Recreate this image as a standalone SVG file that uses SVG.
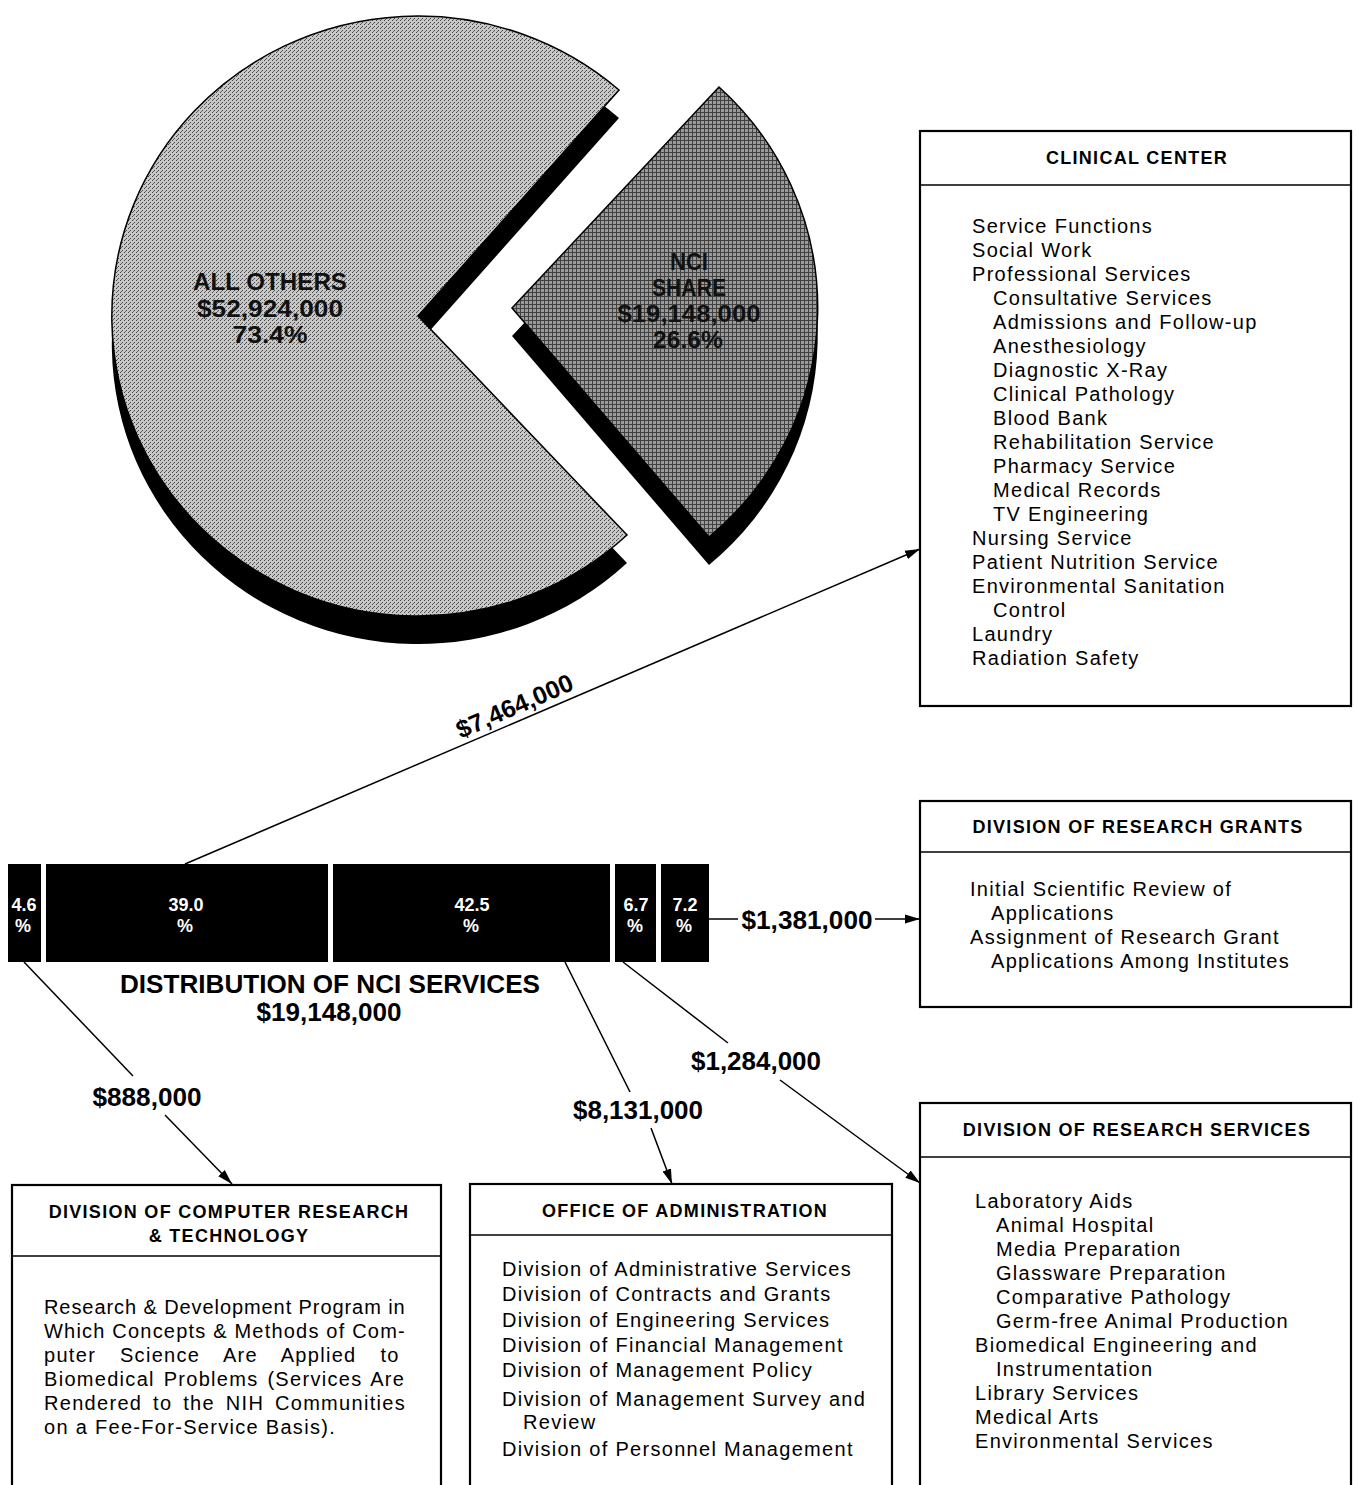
<svg xmlns="http://www.w3.org/2000/svg" width="1358" height="1485" viewBox="0 0 1358 1485">
<defs>
<style>
.box{fill:#fff;stroke:#000;stroke-width:2.2}
.div{stroke:#000;stroke-width:1.6}
.hd{font-family:"Liberation Sans",Arial,sans-serif;font-weight:bold;font-size:18px;letter-spacing:1.3px;text-anchor:middle;fill:#000}
.it{font-family:"Liberation Sans",Arial,sans-serif;font-size:20px;letter-spacing:1.3px;fill:#000}
.lb{font-family:"Liberation Sans",Arial,sans-serif;font-weight:bold;font-size:25px;text-anchor:middle;fill:#000}
.pt{font-family:"Liberation Sans",Arial,sans-serif;font-weight:bold;font-size:23px;text-anchor:middle;fill:#111}
.tt{font-family:"Liberation Sans",Arial,sans-serif;font-weight:bold;font-size:25px;text-anchor:middle;fill:#000}
.bl{font-family:"Liberation Sans",Arial,sans-serif;font-weight:bold;font-size:18px;text-anchor:middle;fill:#fff}
.cn{fill:none;stroke:#000;stroke-width:1.5}
</style>
<pattern id="pl" width="4" height="4" patternUnits="userSpaceOnUse">
<rect width="4" height="4" fill="#c8c8c8"/>
<rect x="0" y="0" width="1" height="1" fill="#444"/>
<rect x="2" y="2" width="1" height="1" fill="#444"/>
<rect x="1" y="3" width="1" height="1" fill="#666"/>
</pattern>
<pattern id="pd" width="4" height="4" patternUnits="userSpaceOnUse">
<rect width="4" height="4" fill="#9a9a9a"/>
<rect x="0" y="0" width="4" height="1" fill="#404040"/>
<rect x="0" y="0" width="1" height="4" fill="#404040"/>
</pattern>
<marker id="ar" markerUnits="userSpaceOnUse" markerWidth="16" markerHeight="10" refX="15" refY="5" orient="auto">
<path d="M0,0.5 L15,5 L0,9.5 Z" fill="#000"/>
</marker>
</defs>
<rect width="1358" height="1485" fill="#fff"/>

<g id="pie-all-others">
<path d="M418,316 L619,90 A306,300 0 1 0 627,535 Z" fill="#000" transform="translate(0,28)"/>
<path d="M418,316 L619,90 A306,300 0 1 0 627,535 Z" fill="url(#pl)" stroke="#000" stroke-width="1.5"/>
<text class="pt" x="270" y="290" textLength="154" lengthAdjust="spacingAndGlyphs">ALL OTHERS</text>
<text class="pt" x="270" y="317" textLength="146" lengthAdjust="spacingAndGlyphs">$52,924,000</text>
<text class="pt" x="270" y="343" textLength="75" lengthAdjust="spacingAndGlyphs">73.4%</text>
</g>

<g id="pie-nci-share">
<path d="M512,308 L719,87 A306,300 0 0 1 709,537 Z" fill="#000" transform="translate(0,28)"/>
<path d="M512,308 L719,87 A306,300 0 0 1 709,537 Z" fill="url(#pd)" stroke="#000" stroke-width="1.5"/>
<text class="pt" x="689" y="270" textLength="38" lengthAdjust="spacingAndGlyphs">NCI</text>
<text class="pt" x="689" y="296" textLength="74" lengthAdjust="spacingAndGlyphs">SHARE</text>
<text class="pt" x="689" y="322" textLength="143" lengthAdjust="spacingAndGlyphs">$19,148,000</text>
<text class="pt" x="688" y="348" textLength="70" lengthAdjust="spacingAndGlyphs">26.6%</text>
</g>

<g id="bar">
<rect x="8" y="864" width="33" height="98" fill="#000"/>
<rect x="46" y="864" width="282" height="98" fill="#000"/>
<rect x="333" y="864" width="277" height="98" fill="#000"/>
<rect x="615" y="864" width="41" height="98" fill="#000"/>
<rect x="661" y="864" width="48" height="98" fill="#000"/>
<text class="bl" x="24" y="911">4.6</text><text class="bl" x="23" y="932">%</text>
<text class="bl" x="186" y="911">39.0</text><text class="bl" x="185" y="932">%</text>
<text class="bl" x="472" y="911">42.5</text><text class="bl" x="471" y="932">%</text>
<text class="bl" x="636" y="911">6.7</text><text class="bl" x="635" y="932">%</text>
<text class="bl" x="685" y="911">7.2</text><text class="bl" x="684" y="932">%</text>
<text class="tt" x="330" y="993" textLength="420" lengthAdjust="spacingAndGlyphs">DISTRIBUTION OF NCI SERVICES</text>
<text class="tt" x="329" y="1021" textLength="145" lengthAdjust="spacingAndGlyphs">$19,148,000</text>
</g>

<g id="connectors">
<line class="cn" x1="185" y1="864" x2="920" y2="549" marker-end="url(#ar)"/>
<text class="lb" transform="translate(518,714) rotate(-23.5)" x="0" y="0" textLength="125" lengthAdjust="spacingAndGlyphs">$7,464,000</text>
<line class="cn" x1="709" y1="919" x2="738" y2="919"/>
<line class="cn" x1="875" y1="919" x2="920" y2="919" marker-end="url(#ar)"/>
<text class="lb" x="807" y="929" textLength="131" lengthAdjust="spacingAndGlyphs">$1,381,000</text>
<line class="cn" x1="24" y1="962" x2="133" y2="1076"/>
<line class="cn" x1="165" y1="1115" x2="232" y2="1184" marker-end="url(#ar)"/>
<text class="lb" x="147" y="1106" textLength="109" lengthAdjust="spacingAndGlyphs">$888,000</text>
<line class="cn" x1="565" y1="962" x2="630" y2="1092"/>
<line class="cn" x1="651" y1="1128" x2="672" y2="1184" marker-end="url(#ar)"/>
<text class="lb" x="638" y="1119" textLength="130" lengthAdjust="spacingAndGlyphs">$8,131,000</text>
<line class="cn" x1="623" y1="962" x2="728" y2="1043"/>
<line class="cn" x1="780" y1="1080" x2="920" y2="1183" marker-end="url(#ar)"/>
<text class="lb" x="756" y="1070" textLength="130" lengthAdjust="spacingAndGlyphs">$1,284,000</text>
</g>

<g id="clinical-center">
<rect class="box" x="920" y="131" width="431" height="575"/>
<line class="div" x1="920" y1="185" x2="1351" y2="185"/>
<text class="hd" x="1137" y="164">CLINICAL CENTER</text>
<text class="it" x="972" y="233">Service Functions</text>
<text class="it" x="972" y="257">Social Work</text>
<text class="it" x="972" y="281">Professional Services</text>
<text class="it" x="993" y="305">Consultative Services</text>
<text class="it" x="993" y="329">Admissions and Follow-up</text>
<text class="it" x="993" y="353">Anesthesiology</text>
<text class="it" x="993" y="377">Diagnostic X-Ray</text>
<text class="it" x="993" y="401">Clinical Pathology</text>
<text class="it" x="993" y="425">Blood Bank</text>
<text class="it" x="993" y="449">Rehabilitation Service</text>
<text class="it" x="993" y="473">Pharmacy Service</text>
<text class="it" x="993" y="497">Medical Records</text>
<text class="it" x="993" y="521">TV Engineering</text>
<text class="it" x="972" y="545">Nursing Service</text>
<text class="it" x="972" y="569">Patient Nutrition Service</text>
<text class="it" x="972" y="593">Environmental Sanitation</text>
<text class="it" x="993" y="617">Control</text>
<text class="it" x="972" y="641">Laundry</text>
<text class="it" x="972" y="665">Radiation Safety</text>
</g>

<g id="research-grants">
<rect class="box" x="920" y="801" width="431" height="206"/>
<line class="div" x1="920" y1="852" x2="1351" y2="852"/>
<text class="hd" x="1138" y="833">DIVISION OF RESEARCH GRANTS</text>
<text class="it" x="970" y="896">Initial Scientific Review of</text>
<text class="it" x="991" y="920">Applications</text>
<text class="it" x="970" y="944">Assignment of Research Grant</text>
<text class="it" x="991" y="968">Applications Among Institutes</text>
</g>

<g id="research-services">
<rect class="box" x="920" y="1103" width="431" height="400"/>
<line class="div" x1="920" y1="1157" x2="1351" y2="1157"/>
<text class="hd" x="1137" y="1136">DIVISION OF RESEARCH SERVICES</text>
<text class="it" x="975" y="1208">Laboratory Aids</text>
<text class="it" x="996" y="1232">Animal Hospital</text>
<text class="it" x="996" y="1256">Media Preparation</text>
<text class="it" x="996" y="1280">Glassware Preparation</text>
<text class="it" x="996" y="1304">Comparative Pathology</text>
<text class="it" x="996" y="1328">Germ-free Animal Production</text>
<text class="it" x="975" y="1352">Biomedical Engineering and</text>
<text class="it" x="996" y="1376">Instrumentation</text>
<text class="it" x="975" y="1400">Library Services</text>
<text class="it" x="975" y="1424">Medical Arts</text>
<text class="it" x="975" y="1448">Environmental Services</text>
</g>

<g id="computer-research">
<rect class="box" x="12" y="1185" width="429" height="320"/>
<line class="div" x1="12" y1="1256" x2="441" y2="1256"/>
<text class="hd" x="229" y="1218">DIVISION OF COMPUTER RESEARCH</text>
<text class="hd" x="229" y="1242">&amp; TECHNOLOGY</text>
<text class="it" x="44" y="1314" textLength="362" lengthAdjust="spacing">Research &amp; Development Program in</text>
<text class="it" x="44" y="1338" textLength="362" lengthAdjust="spacing">Which Concepts &amp; Methods of Com-</text>
<text class="it" x="44" y="1362" word-spacing="17">puter Science Are Applied to</text>
<text class="it" x="44" y="1386" word-spacing="2">Biomedical Problems (Services Are</text>
<text class="it" x="44" y="1410" word-spacing="4">Rendered to the NIH Communities</text>
<text class="it" x="44" y="1434">on a Fee-For-Service Basis).</text>
</g>

<g id="office-administration">
<rect class="box" x="470" y="1184" width="422" height="320"/>
<line class="div" x1="470" y1="1235" x2="892" y2="1235"/>
<text class="hd" x="685" y="1217">OFFICE OF ADMINISTRATION</text>
<text class="it" x="502" y="1276">Division of Administrative Services</text>
<text class="it" x="502" y="1301">Division of Contracts and Grants</text>
<text class="it" x="502" y="1327">Division of Engineering Services</text>
<text class="it" x="502" y="1352">Division of Financial Management</text>
<text class="it" x="502" y="1377">Division of Management Policy</text>
<text class="it" x="502" y="1406">Division of Management Survey and</text>
<text class="it" x="523" y="1429">Review</text>
<text class="it" x="502" y="1456">Division of Personnel Management</text>
</g>
</svg>
